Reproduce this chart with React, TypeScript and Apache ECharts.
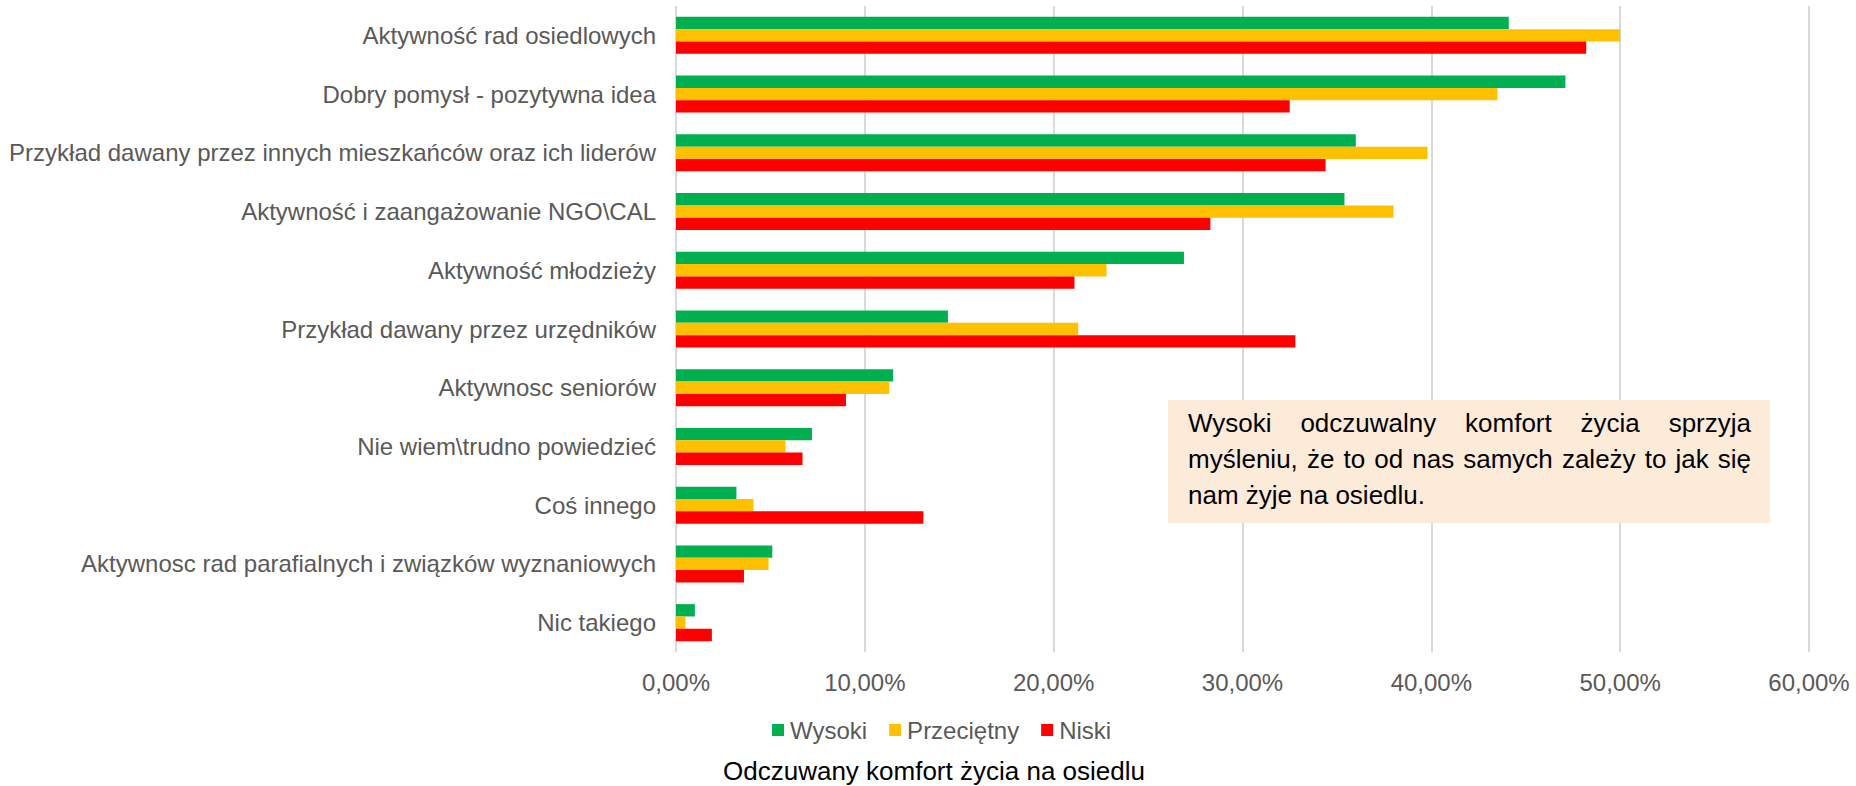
import React, { useEffect, useRef } from "react";
import * as echarts from "echarts";

const categories = [
  "Aktywność rad osiedlowych",
  "Dobry pomysł - pozytywna idea",
  "Przykład dawany przez innych mieszkańców oraz ich liderów",
  "Aktywność i zaangażowanie NGO\\CAL",
  "Aktywność młodzieży",
  "Przykład dawany przez urzędników",
  "Aktywnosc seniorów",
  "Nie wiem\\trudno powiedzieć",
  "Coś innego",
  "Aktywnosc rad parafialnych i związków wyznaniowych",
  "Nic takiego",
];

const wysoki = [44.1, 47.1, 36.0, 35.4, 26.9, 14.4, 11.5, 7.2, 3.2, 5.1, 1.0];
const przecietny = [50.0, 43.5, 39.8, 38.0, 22.8, 21.3, 11.3, 5.8, 4.1, 4.9, 0.5];
const niski = [48.2, 32.5, 34.4, 28.3, 21.1, 32.8, 9.0, 6.7, 13.1, 3.6, 1.9];

const seriesNames = ["Wysoki", "Przeciętny", "Niski"];
const seriesColors = ["#00B050", "#FFC000", "#FF0000"];

const noteLines = [
  "Wysoki odczuwalny komfort życia sprzyja",
  "myśleniu, że to od nas samych zależy to jak się",
  "nam żyje na osiedlu.",
];
const axisTitle = "Odczuwany komfort życia na osiedlu";

const FONT = "'Liberation Sans', Arial, sans-serif";

export default function App() {
  const ref = useRef<HTMLDivElement>(null);

  useEffect(() => {
    if (!ref.current) return;
    const chart = echarts.init(ref.current, undefined, { renderer: "svg" });

    // justified note text
    const noteFont = 26;
    const canvas = document.createElement("canvas");
    const ctx = canvas.getContext("2d")!;
    ctx.font = `${noteFont}px 'Liberation Sans', Arial, sans-serif`;
    const boxX = 1168, boxY = 400, boxW = 602, boxH = 123;
    const textL = 1188, textR = 1751;
    const lineYs = [423, 459, 495];
    const noteEls: any[] = [];
    noteLines.forEach((line, li) => {
      const words = line.split(" ");
      const justify = li < noteLines.length - 1;
      if (!justify) {
        noteEls.push({
          type: "text",
          x: textL,
          y: lineYs[li],
          style: { text: line, font: `${noteFont}px ${FONT}`, fill: "#000", textVerticalAlign: "middle" },
        });
        return;
      }
      const widths = words.map((w) => ctx.measureText(w).width);
      const total = widths.reduce((a, b) => a + b, 0);
      const gap = (textR - textL - total) / (words.length - 1);
      let x = textL;
      words.forEach((w, i) => {
        noteEls.push({
          type: "text",
          x,
          y: lineYs[li],
          style: { text: w, font: `${noteFont}px ${FONT}`, fill: "#000", textVerticalAlign: "middle" },
        });
        x += widths[i] + gap;
      });
    });

    const data = [wysoki, przecietny, niski];

    chart.setOption({
      animation: false,
      textStyle: { fontFamily: FONT },
      title: {
        text: axisTitle,
        left: 723,
        top: 758,
        padding: 0,
        textStyle: { fontSize: 26, fontWeight: "normal", color: "#000", fontFamily: FONT },
      },
      legend: {
        data: seriesNames,
        left: 772,
        top: 718,
        icon: "rect",
        itemWidth: 12,
        itemHeight: 12,
        itemGap: 22,
        padding: 0,
        textStyle: { fontSize: 24, color: "#595959", fontFamily: FONT, padding: [0, 0, 0, 1] },
      },
      grid: { left: 676, right: 47, top: 6, bottom: 134, containLabel: false },
      xAxis: {
        type: "value",
        min: 0,
        max: 60,
        interval: 10,
        axisLine: { show: false },
        axisTick: { show: false },
        splitLine: { show: true, lineStyle: { color: "#D9D9D9", width: 2 } },
        axisLabel: {
          fontSize: 24,
          color: "#595959",
          fontFamily: FONT,
          margin: 18,
          formatter: (v: number) => v.toFixed(2).replace(".", ",") + "%",
        },
      },
      yAxis: {
        type: "category",
        data: categories,
        inverse: true,
        axisLine: { show: false },
        axisTick: { show: false },
        axisLabel: { fontSize: 24, color: "#595959", fontFamily: FONT, margin: 20 },
      },
      series: seriesNames.map((name, i) => ({
        name,
        type: "bar",
        data: data[i],
        barGap: "0%",
        barCategoryGap: "37%",
        itemStyle: { color: seriesColors[i] },
      })),
      graphic: [
        {
          type: "rect",
          shape: { x: boxX, y: boxY, width: boxW, height: boxH },
          style: { fill: "#FDEBDA" },
          z: 10,
        },
        ...noteEls.map((e) => ({ ...e, z: 11 })),
      ],
    });

    return () => chart.dispose();
  }, []);

  return (
    <div
      ref={ref}
      style={{ position: "fixed", left: 0, top: 0, width: 1856, height: 786, background: "#fff" }}
    />
  );
}
